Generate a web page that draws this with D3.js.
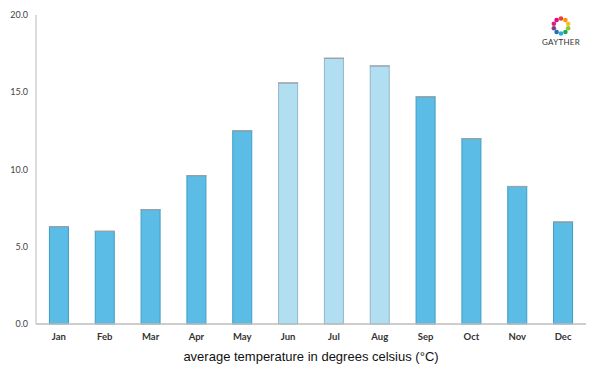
<!DOCTYPE html>
<html>
<head>
<meta charset="utf-8">
<script src="https://cdn.jsdelivr.net/npm/d3@7"></script>
<style>
  body { margin: 0; background: #fff; }
  svg { display: block; }
  .tick-label { font-family: Lato, "Open Sans", sans-serif; font-size: 9px; fill: #444; }
  .month-label { font-family: Lato, "Open Sans", sans-serif; font-size: 9.5px; font-weight: bold; fill: #333; }
  .title { font-family: "Liberation Sans", Arial, sans-serif; font-size: 13px; fill: #111; }
</style>
</head>
<body>
<svg width="600" height="375"></svg>
<script>
const months = ["Jan", "Feb", "Mar", "Apr", "May", "Jun", "Jul", "Aug", "Sep", "Oct", "Nov", "Dec"];
const temps = [6.3, 6.0, 7.4, 9.6, 12.5, 15.6, 17.2, 16.7, 14.7, 12.0, 8.9, 6.6];
const summerMonths = ["Jun", "Jul", "Aug"];
const yTicks = [0, 5, 10, 15, 20];

const svg = d3.select("svg");
const plotLeft = 36, plotRight = 586, plotTop = 15, plotBottom = 324;

const pad = 1 - 20 / ((plotRight - plotLeft) / months.length);
const x = d3.scaleBand()
    .domain(months)
    .range([plotLeft, plotRight])
    .paddingInner(pad)
    .paddingOuter(pad / 2);

const y = d3.scaleLinear()
    .domain([0, 20])
    .range([plotBottom, plotTop]);

// y axis line
svg.append("line")
    .attr("x1", plotLeft).attr("x2", plotLeft)
    .attr("y1", plotTop).attr("y2", plotBottom)
    .attr("stroke", "#d0d0d0").attr("stroke-width", 1.5);

// bars
const data = months.map((m, i) => ({ month: m, value: temps[i] }));
svg.selectAll(".bar")
    .data(data)
    .enter().append("rect")
    .attr("class", "bar")
    .attr("x", d => x(d.month) + 0.5)
    .attr("y", d => y(d.value))
    .attr("width", x.bandwidth() - 1)
    .attr("height", d => y(0) - y(d.value))
    .attr("fill", d => summerMonths.includes(d.month) ? "#b1def1" : "#5bbde6")
    .attr("stroke", d => summerMonths.includes(d.month) ? "#8fb8c9" : "#3f9cc6")
    .attr("stroke-width", 1);

// bar top edge (grey)
svg.selectAll(".bar-top")
    .data(data)
    .enter().append("line")
    .attr("x1", d => x(d.month))
    .attr("x2", d => x(d.month) + x.bandwidth())
    .attr("y1", d => y(d.value))
    .attr("y2", d => y(d.value))
    .attr("stroke", "#a0a0a0")
    .attr("stroke-width", 1.2);

svg.append("line")
    .attr("x1", plotLeft).attr("x2", plotRight)
    .attr("y1", plotBottom).attr("y2", plotBottom)
    .attr("stroke", "#bdbdbd").attr("stroke-width", 1.5);

// y tick labels
svg.selectAll(".tick-label")
    .data(yTicks)
    .enter().append("text")
    .attr("class", "tick-label")
    .attr("x", 28)
    .attr("y", d => y(d) + 3)
    .attr("text-anchor", "end")
    .text(d => d3.format(".1f")(d));

// month labels
svg.selectAll(".month-label")
    .data(months)
    .enter().append("text")
    .attr("class", "month-label")
    .attr("x", d => x(d) + x.bandwidth() / 2)
    .attr("y", 340)
    .attr("text-anchor", "middle")
    .text(d => d);

// caption
svg.append("text")
    .attr("class", "title")
    .attr("x", 311)
    .attr("y", 361)
    .attr("text-anchor", "middle")
    .text("average temperature in degrees celsius (°C)");

// logo
const logoColors = ["#e8412c", "#f7941d", "#f9c21b", "#8dc63f", "#1fa84f", "#27aae1", "#2b6cb0", "#7f3f98", "#d6246e", "#ec008c"];
const logo = svg.append("g").attr("transform", "translate(561,26)");
logoColors.forEach((c, i) => {
    const a = (i / logoColors.length) * 2 * Math.PI - Math.PI / 2;
    logo.append("circle")
        .attr("cx", Math.cos(a) * 7.5)
        .attr("cy", Math.sin(a) * 7.5)
        .attr("r", 2.3)
        .attr("fill", c);
});
logo.append("text")
    .attr("x", 0).attr("y", 19)
    .attr("text-anchor", "middle")
    .attr("font-family", "Lato, sans-serif")
    .attr("font-size", "8px")
    .attr("letter-spacing", "0.3px")
    .attr("fill", "#333")
    .text("GAYTHER");
</script>
</body>
</html>
